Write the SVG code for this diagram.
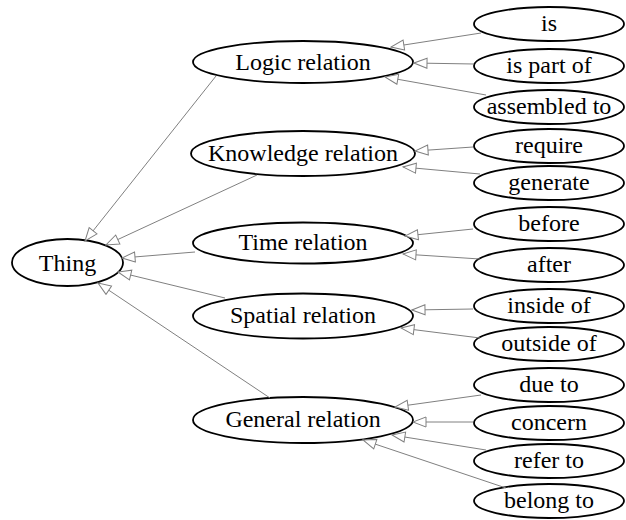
<svg xmlns="http://www.w3.org/2000/svg" width="626" height="520" viewBox="0 0 626 520">
<style>
.n ellipse{fill:#fff;stroke:#000;stroke-width:1.8}
.n text{font-family:"Liberation Serif","Times New Roman",serif;font-size:24px;fill:#000;text-anchor:middle}
.e line{stroke:#808080;stroke-width:1;marker-end:url(#ah)}
</style>
<defs>
<marker id="ah" markerUnits="userSpaceOnUse" markerWidth="15" markerHeight="13" viewBox="-1 -6.5 15 13" refX="13" refY="0" orient="auto">
<path d="M0,-5 L13,0 L0,5 Z" fill="#fff" stroke="#808080" stroke-width="1"/>
</marker>
</defs>
<rect width="626" height="520" fill="#fff"/>
<g id="thing" class="n"><ellipse cx="67.5" cy="262.5" rx="55.5" ry="23.5"/><text x="67.5" y="271">Thing</text></g>
<g id="logic" class="n"><ellipse cx="303" cy="62" rx="110" ry="21"/><text x="303" y="70">Logic relation</text></g>
<g id="knowledge" class="n"><ellipse cx="303" cy="153.5" rx="112" ry="22.5"/><text x="303" y="161">Knowledge relation</text></g>
<g id="time" class="n"><ellipse cx="303" cy="243" rx="110" ry="20.5"/><text x="303" y="250">Time relation</text></g>
<g id="spatial" class="n"><ellipse cx="303" cy="316" rx="110" ry="22.5"/><text x="303" y="323">Spatial relation</text></g>
<g id="general" class="n"><ellipse cx="303" cy="420" rx="110" ry="23"/><text x="303" y="427">General relation</text></g>
<g id="is" class="n"><ellipse cx="549" cy="24" rx="75" ry="17"/><text x="549" y="31">is</text></g>
<g id="ispartof" class="n"><ellipse cx="549" cy="66" rx="75" ry="17"/><text x="549" y="73">is part of</text></g>
<g id="assembledto" class="n"><ellipse cx="549" cy="107" rx="75" ry="17"/><text x="549" y="114">assembled to</text></g>
<g id="require" class="n"><ellipse cx="549" cy="146" rx="75" ry="17"/><text x="549" y="153">require</text></g>
<g id="generate" class="n"><ellipse cx="549" cy="183" rx="75" ry="17"/><text x="549" y="190">generate</text></g>
<g id="before" class="n"><ellipse cx="549" cy="224" rx="75" ry="17"/><text x="549" y="231">before</text></g>
<g id="after" class="n"><ellipse cx="549" cy="265" rx="75" ry="17"/><text x="549" y="272">after</text></g>
<g id="insideof" class="n"><ellipse cx="549" cy="306" rx="75" ry="17"/><text x="549" y="313">inside of</text></g>
<g id="outsideof" class="n"><ellipse cx="549" cy="344" rx="75" ry="17"/><text x="549" y="351">outside of</text></g>
<g id="dueto" class="n"><ellipse cx="549" cy="385" rx="75" ry="17"/><text x="549" y="392">due to</text></g>
<g id="concern" class="n"><ellipse cx="549" cy="423" rx="75" ry="17"/><text x="549" y="430">concern</text></g>
<g id="referto" class="n"><ellipse cx="549" cy="461" rx="75" ry="17"/><text x="549" y="468">refer to</text></g>
<g id="belongto" class="n"><ellipse cx="549" cy="501" rx="75" ry="17"/><text x="549" y="508">belong to</text></g>
<g id="edges" class="e">
<line x1="216" y1="76" x2="85" y2="241"/>
<line x1="257" y1="175" x2="106" y2="245"/>
<line x1="195" y1="252" x2="122" y2="258"/>
<line x1="225" y1="298" x2="118" y2="272"/>
<line x1="270" y1="398" x2="98" y2="283"/>
<line x1="481" y1="33" x2="391" y2="47"/>
<line x1="474" y1="64" x2="414" y2="63"/>
<line x1="486" y1="95" x2="385" y2="77"/>
<line x1="473" y1="147" x2="415" y2="151"/>
<line x1="480" y1="174" x2="403" y2="167"/>
<line x1="473" y1="229" x2="405" y2="236"/>
<line x1="480" y1="259" x2="403" y2="254"/>
<line x1="473" y1="309" x2="412" y2="310"/>
<line x1="480" y1="338" x2="401" y2="328"/>
<line x1="481" y1="395" x2="395" y2="407"/>
<line x1="473" y1="422" x2="413" y2="422"/>
<line x1="486" y1="450" x2="392" y2="435"/>
<line x1="506" y1="488" x2="363" y2="440"/>
</g>
</svg>
